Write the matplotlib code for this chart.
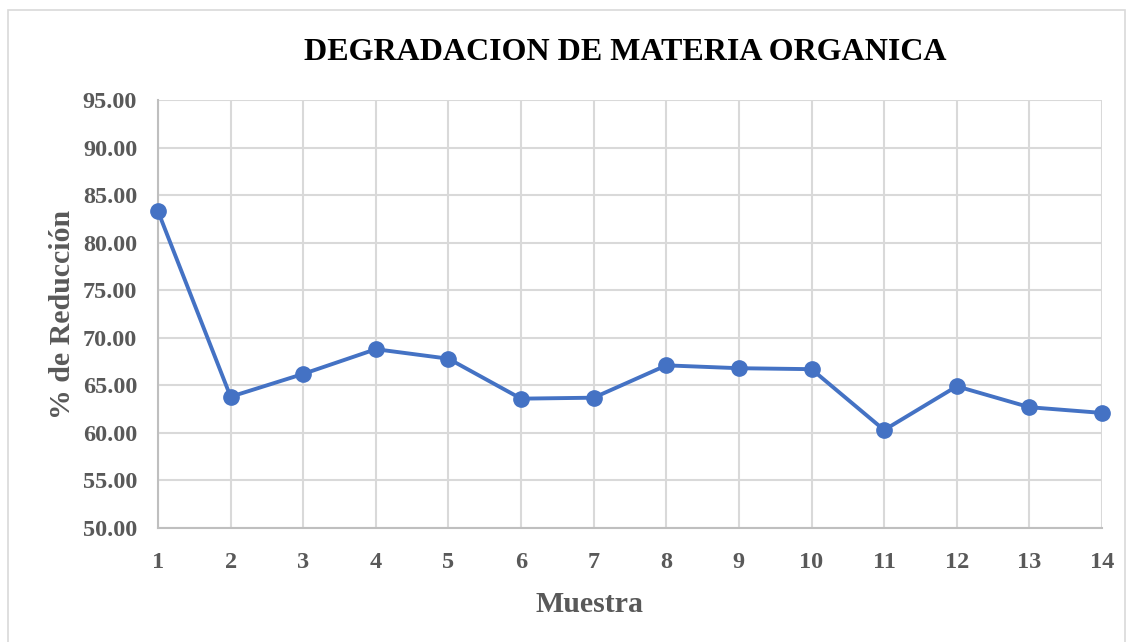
import matplotlib
matplotlib.use("Agg")
import matplotlib.pyplot as plt
from matplotlib.patches import Rectangle

muestras = list(range(1, 15))
reduccion = [83.3, 63.8, 66.2, 68.8, 67.8, 63.6, 63.7, 67.1, 66.8, 66.7, 60.3, 64.9, 62.7, 62.1]
yticks = [50, 55, 60, 65, 70, 75, 80, 85, 90, 95]

plt.rcParams['font.family'] = ['Liberation Serif', 'DejaVu Serif']

W, H = 1133, 642
fig = plt.figure(figsize=(W / 100, H / 100), dpi=100)
fig.patch.set_facecolor('white')
fig.patches.append(Rectangle((8 / W, -0.1), (1125 - 8) / W, 1.1 - 10 / H,
                             transform=fig.transFigure, fill=False,
                             edgecolor='#d9d9d9', linewidth=1.2))

left, right, top, bottom = 158, 1102, 100, 528
ax = fig.add_axes([left / W, 1 - bottom / H, (right - left) / W, (bottom - top) / H])

ax.plot(muestras, reduccion, color='#4472c4', linewidth=2.8, marker='o',
        markersize=11, zorder=3, clip_on=False)

ax.set_xlim(1, 14)
ax.set_ylim(50, 95)
ax.set_xticks(muestras)
ax.set_yticks(yticks)
ax.set_yticklabels([f"{v:.2f}" for v in yticks])
ax.grid(True, color='#d9d9d9', linewidth=1.5)
ax.set_axisbelow(True)
for s in ['top', 'right']:
    ax.spines[s].set_visible(False)
for s in ['left', 'bottom']:
    ax.spines[s].set_color('#bfbfbf')
    ax.spines[s].set_linewidth(1.5)
ax.tick_params(length=0, labelsize=17.5, labelcolor='#595959')
for lab in ax.get_xticklabels() + ax.get_yticklabels():
    lab.set_fontweight('bold')
ax.tick_params(axis='y', pad=15)
ax.tick_params(axis='x', pad=17)

ax.set_xlabel('Muestra', fontsize=21.5, fontweight='bold', color='#595959', va='center')
ax.set_ylabel('% de Reducción', fontsize=21.5, fontweight='bold', color='#595959', va='center')
ax.xaxis.set_label_coords((590 - left) / (right - left), -(604 - bottom) / (bottom - top))
ax.yaxis.set_label_coords((63 - left) / (right - left), (bottom - 314) / (bottom - top))
fig.text(625 / W, 1 - 53 / H, 'DEGRADACION DE MATERIA ORGANICA', ha='center', va='center',
         fontsize=23, fontweight='bold', color='black')

fig.savefig('out.png', dpi=100, facecolor='white')
